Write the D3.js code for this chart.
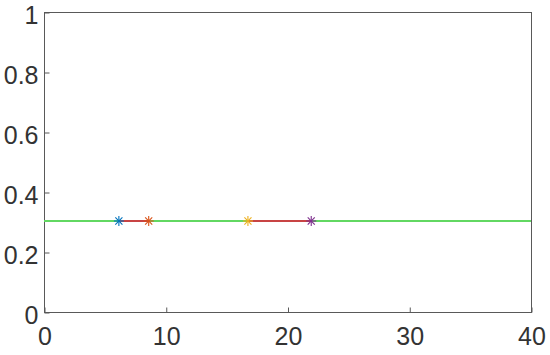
<!DOCTYPE html>
<html>
<head>
    <meta charset="utf-8" />
    <title>chart</title>
    <script src="https://cdn.jsdelivr.net/npm/d3@7"></script>
    <style>
        html, body { margin: 0; padding: 0; background: #fff; }
        .axis text { font-family: "Liberation Sans", Arial, sans-serif; font-size: 25px; fill: #333; }
        .axis path, .axis line { stroke: #595959; }
    </style>
</head>
<body>
<div id="container"></div>
<script>
    // data
    const xDomain = [0, 40];
    const yDomain = [0, 1];
    const xTicks = [0, 10, 20, 30, 40];
    const yTicks = [0, 0.2, 0.4, 0.6, 0.8, 1];
    const levelY = 0.302;
    const baseLine = [[0, levelY], [40, levelY]];
    const redSegments = [[[6.15, levelY], [8.6, levelY]], [[16.75, levelY], [21.95, levelY]]];
    const markerX = [6.15, 8.6, 16.75, 21.95];
    const markerColors = ["#0072BD", "#D95319", "#EDB120", "#7E2F8E"];

    const width = 550, height = 355;
    const margin = { top: 12, right: 19, bottom: 43, left: 44 };

    const svg = d3.select("#container").append("svg")
        .attr("width", width)
        .attr("height", height);

    const x = d3.scaleLinear().domain(xDomain).range([margin.left, width - margin.right]);
    const y = d3.scaleLinear().domain(yDomain).range([height - margin.bottom, margin.top]);

    // box
    svg.append("rect")
        .attr("x", x(0) + 0.5).attr("y", y(1) + 0.5)
        .attr("width", x(40) - x(0)).attr("height", y(0) - y(1))
        .attr("fill", "none").attr("stroke", "#595959");

    svg.append("g").attr("class", "axis")
        .attr("transform", `translate(0.5,${y(0) + 0.5})`)
        .call(d3.axisBottom(x).tickValues(xTicks).tickSize(-5).tickPadding(15).tickFormat(d3.format("d")))
        .call(g => g.select(".domain").remove())
        .selectAll("text").attr("dy", "0.71em");

    svg.append("g").attr("class", "axis")
        .attr("transform", `translate(${x(0) + 0.5},0.5)`)
        .call(d3.axisLeft(y).tickValues(yTicks).tickSize(-5).tickPadding(6).tickFormat(d => d === 0 || d === 1 ? d : d3.format(".1f")(d)))
        .call(g => g.select(".domain").remove())
        .selectAll("text").attr("dy", "0.42em");

    const line = d3.line().x(d => x(d[0])).y(d => Math.round(y(d[1])));

    svg.append("path")
        .datum(baseLine)
        .attr("d", line)
        .attr("fill", "none")
        .attr("stroke", "#62d862")
        .attr("stroke-width", 2)
        .attr("shape-rendering", "crispEdges");

    svg.selectAll(".seg")
        .data(redSegments)
        .enter().append("path")
        .attr("class", "seg")
        .attr("d", line)
        .attr("fill", "none")
        .attr("stroke", "#c84444")
        .attr("stroke-width", 2)
        .attr("shape-rendering", "crispEdges");

    // asterisk markers
    const star = svg.selectAll(".star")
        .data(markerX)
        .enter().append("g")
        .attr("class", "star")
        .attr("transform", d => `translate(${x(d)},${Math.round(y(levelY))})`)
        .attr("stroke", (d, i) => markerColors[i])
        .attr("stroke-width", 1.1);
    [0, 45, 90, 135].forEach(a => {
        const r = 5, t = a * Math.PI / 180;
        star.append("line")
            .attr("x1", -r * Math.cos(t)).attr("y1", -r * Math.sin(t))
            .attr("x2", r * Math.cos(t)).attr("y2", r * Math.sin(t));
    });
</script>
</body>
</html>
